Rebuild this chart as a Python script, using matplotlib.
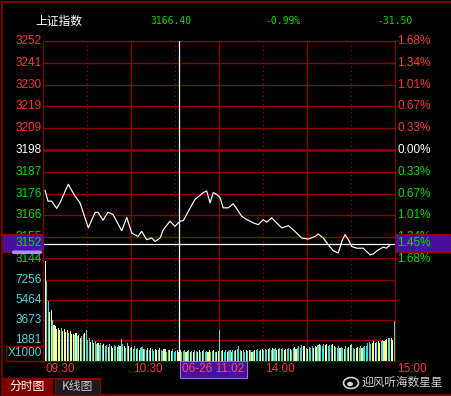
import matplotlib
matplotlib.use('Agg')
import matplotlib.pyplot as plt
import matplotlib.transforms as mtrans
from matplotlib.patches import Rectangle, FancyBboxPatch, Ellipse
import numpy as np

W, H = 451, 396

# ---- data ----
prev_close = 3197.90
header_name = '上证指数'
header_vals = ['3166.40', '-0.99%', '-31.50']

price_labels = ['3252', '3241', '3230', '3219', '3209', '3198',
                '3187', '3176', '3166', '3155', '3144']
pct_labels = ['1.68%', '1.34%', '1.01%', '0.67%', '0.33%', '0.00%',
              '0.33%', '0.67%', '1.01%', '1.34%', '1.68%']
pct_range = 1.68

vol_labels = [1881, 3673, 5464, 7256]
vol_top = 9139

# minute index (0 = 09:30, 240 = 15:00) and index value
line_min = [1.4, 3.4, 5.9, 9.3, 11.6, 17.2, 21.8, 25.2, 30.9, 35.5, 37.5, 40.9,
            44.3, 47.7, 53.7, 57.1, 60.5, 64.8, 67.3, 70.7, 74.1, 76.4, 79.8,
            82.0, 86.6, 90.0, 93.4, 95.7, 99.1, 103.6, 109.3, 111.6, 113.9,
            116.1, 118.4, 120.7, 122.9, 126.3, 129.7, 132.1, 135.5, 138.9,
            143.4, 146.8, 150.2, 152.5, 155.9, 159.3, 162.8, 167.3, 171.8,
            176.4, 180.9, 185.5, 187.7, 191.1, 194.5, 197.9, 201.3, 203.7,
            205.9, 208.2, 210.5, 213.9, 218.4, 223.0, 225.2, 228.6, 232.0,
            234.3, 236.6]
line_price = [3178.0, 3172.7, 3172.7, 3169.1, 3171.9, 3181.0, 3175.2, 3171.9,
              3159.5, 3167.1, 3167.2, 3163.3, 3167.2, 3166.1, 3158.1, 3164.7,
              3157.0, 3155.3, 3157.8, 3153.7, 3154.5, 3152.8, 3154.5, 3158.6,
              3162.8, 3160.3, 3162.8, 3163.1, 3167.7, 3173.5, 3176.9, 3177.7,
              3171.9, 3176.9, 3176.0, 3174.4, 3169.4, 3169.4, 3171.4, 3168.9,
              3165.2, 3163.6, 3162.0, 3161.1, 3163.6, 3162.3, 3164.5, 3162.0,
              3159.5, 3160.6, 3157.8, 3154.5, 3154.0, 3155.3, 3156.5, 3154.5,
              3151.2, 3148.3, 3147.1, 3152.8, 3156.2, 3153.7, 3150.3, 3149.5,
              3149.5, 3146.2, 3146.7, 3148.7, 3150.0, 3149.5, 3151.2]

volume = [2780, 9000, 7170, 5380, 4400, 4570, 3670, 3230, 3100, 2900,
          3000, 2800, 2950, 2700, 2850, 2600, 2750, 2500, 2650, 2400,
          2450, 2300, 2500, 2200, 2350, 2100, 2250, 2400, 2500, 2780,
          1900, 2050, 1700, 1850, 1600, 1750, 1500, 1650, 1450, 1600,
          1400, 1550, 1300, 1450, 1250, 1500, 1350, 1200, 1400, 1300,
          1250, 1450, 1300, 1970, 1500, 1350, 1200, 1600, 1300, 1150,
          1250, 1100, 1300, 1050, 1200, 1000, 1150, 1250, 1050, 1100,
          950, 1150, 1000, 1200, 1050, 900, 1100, 1000, 950, 1150,
          1000, 900, 1050, 1100, 850, 1000, 950, 900, 1050, 850,
          900, 1000, 850, 950, 800, 900, 1000, 850, 900, 950,
          800, 900, 850, 1000, 900, 800, 950, 850, 900, 1000,
          850, 900, 800, 950, 850, 900, 1000, 800, 850, 900,
          2780, 900, 1000, 850, 950, 800, 900, 1000, 850, 950,
          900, 1000, 1100, 1350, 950, 900, 1000, 850, 950, 900,
          1000, 950, 850, 900, 1000, 950, 1050, 900, 1000, 1100,
          950, 1050, 1000, 1100, 1150, 1000, 1200, 1050, 1150, 1000,
          1100, 1200, 1050, 1150, 1000, 1100, 1050, 1200, 1100, 1000,
          1150, 1250, 1100, 1200, 1300, 1150, 1400, 1350, 1300, 1200,
          1100, 1250, 1150, 1300, 1200, 1350, 1250, 1400, 1500, 1450,
          1350, 1500, 1400, 1550, 1300, 1450, 1400, 1500, 1350, 1250,
          1200, 1300, 1150, 1250, 1200, 1100, 1300, 1150, 1250, 1400,
          1500, 1200, 1100, 1150, 1250, 1200, 1300, 1150, 1250, 1350,
          1300, 1600, 1700, 1550, 1650, 1750, 1600, 1700, 1800, 1650,
          1750, 1850, 1800, 1900, 1950, 2050, 2100, 2050, 1900, 3580]
# y = up minute (yellow), c = down minute (cyan)
vol_dir = ("yyccyycyyy" "yycyyyycyy" "ycycyyccyc" "ccycyccycc"
           "cyccycyycc" "ycyccyccyc" "yccycyccyc" "cycyccyycy"
           "ccyyccyycc" "cyyycccyyc" "ycyccyycyc" "ccyyccycyy"
           "ccyccyccyc" "cycccyccyc" "ycycycccyy" "cccyccyccy"
           "ycccyyccyc" "cyyccccyyc" "ycccyyycyc" "ccyycccyyc"
           "ccyccyccyy" "cccyyccycc" "ccccyyycyy" "ccyyyccyyc")

time_labels = ['09:30', '10:30', '14:00', '15:00']
time_pos = [0, 60, 150, 240]
solid_min = [60, 120, 180]
dotted_min = [30, 90, 150, 210]

cursor_min = 93
cursor_price = 3151.5
cursor_left = '3152'
cursor_right = '1.45%'
cursor_date = '06-26 11:02'

# ---- colours ----
BG = 'black'
GRID = '#8c0000'
RED = '#ff3232'
GREEN = '#00e000'
CYAN = '#3cdcdc'
YEL = '#ffff8c'
PURPLE = '#4a10a0'
NUMF = ['Liberation Sans', 'DejaVu Sans']
CJK = ['Noto Sans CJK SC', 'DejaVu Sans']
FS = 8.5


def box(x0, y0, x1, y1):
    return [x0 / W, 1 - y1 / H, (x1 - x0) / W, (y1 - y0) / H]


fig = plt.figure(figsize=(W / 100, H / 100), dpi=100, facecolor=BG)

half = prev_close * pct_range / 100
levels = np.linspace(prev_close + half, prev_close - half, len(price_labels))

# price panel
ax1 = fig.add_axes(box(43, 41, 395, 259))
ax1.set_facecolor(BG)
ax1.set_xlim(0, 240)
ax1.set_ylim(prev_close - half, prev_close + half)
for lv in levels:
    ax1.axhline(lv, color=GRID, lw=2 if abs(lv - prev_close) < 0.1 else 1, zorder=1)
for m in solid_min:
    ax1.axvline(m, color=GRID, lw=1, zorder=1)
for m in dotted_min:
    ax1.axvline(m, color=GRID, lw=1, ls=(0, (1, 2)), zorder=1)
ax1.plot(line_min, line_price, color='white', lw=0.85, zorder=3)
ax1.axhline(cursor_price, color='white', lw=0.9, zorder=4)
ax1.axvline(cursor_min, color='white', lw=0.9, zorder=4)
for s in ax1.spines.values():
    s.set_color(GRID)
ax1.spines['bottom'].set_linewidth(2)
ax1.set_xticks([])
ax1.set_yticks([])

left_tr = mtrans.offset_copy(ax1.get_yaxis_transform(), fig=fig, x=-1.5, y=0, units='dots')
right_tr = mtrans.offset_copy(ax1.get_yaxis_transform(), fig=fig, x=2, y=0, units='dots')
for lv, pl, cl in zip(levels, price_labels, pct_labels):
    c = RED if lv > prev_close + 0.1 else (GREEN if lv < prev_close - 0.1 else 'white')
    ax1.text(0, lv, pl, transform=left_tr, ha='right', va='center', color=c,
             fontsize=FS, family=NUMF, clip_on=False)
    ax1.text(1, lv, cl, transform=right_tr, ha='left', va='center', color=c,
             fontsize=FS, family=NUMF, clip_on=False)

# volume panel
ax2 = fig.add_axes(box(43, 259, 395, 361))
ax2.set_facecolor(BG)
ax2.set_xlim(0, 240)
ax2.set_ylim(0, vol_top)
for v in vol_labels:
    ax2.axhline(v, color=GRID, lw=1, zorder=1)
for m in solid_min:
    ax2.axvline(m, color=GRID, lw=1, zorder=1)
for m in dotted_min:
    ax2.axvline(m, color=GRID, lw=1, ls=(0, (1, 2)), zorder=1)
cols = [YEL if d == 'y' else CYAN for d in vol_dir]
ax2.bar(np.arange(len(volume)) + 0.5, volume, width=0.74, color=cols, lw=0, zorder=2)
ax2.axvline(cursor_min, color='white', lw=0.9, zorder=4)
for s in ax2.spines.values():
    s.set_color(GRID)
ax2.spines['top'].set_visible(False)
ax2.set_xticks([])
ax2.set_yticks([])
vl_tr = mtrans.offset_copy(ax2.get_yaxis_transform(), fig=fig, x=-1.5, y=0, units='dots')
for v in vol_labels:
    ax2.text(0, v, str(v), transform=vl_tr, ha='right', va='center', color=CYAN,
             fontsize=FS, family=NUMF, clip_on=False)
tl_tr = mtrans.offset_copy(ax2.get_xaxis_transform(), fig=fig, x=2, y=-8, units='dots')
for t, lab in zip(time_pos, time_labels):
    ax2.text(t, 0, lab, transform=tl_tr, ha='left', va='center', color=RED,
             fontsize=FS, family=NUMF, clip_on=False)

# overlay in pixel coordinates for the frame, header and cursor boxes
ov = fig.add_axes([0, 0, 1, 1])
ov.set_xlim(0, W)
ov.set_ylim(H, 0)
ov.axis('off')
ov.patch.set_alpha(0)

ov.plot([2, W], [2, 2], color=GRID, lw=1.2)
ov.plot([2, 2], [2, H], color=GRID, lw=1.2)
ov.plot([2, W], [395, 395], color=GRID, lw=1.2)
ov.plot([2, 100], [378, 378], color=GRID, lw=1)

ov.text(35, 21, header_name, color='white', fontsize=8.5, family=CJK, va='center', ha='left')
for x, s in zip([150, 265, 377], header_vals):
    ov.text(x, 21, s, color=GREEN, fontsize=7, family=['DejaVu Sans Mono'], va='center', ha='left')

# cursor value boxes (they hide the 3155 / 1.34% labels underneath)
ov.add_patch(Rectangle((2, 234), 41, 18, facecolor=PURPLE, edgecolor=GRID, lw=0.8, zorder=5))
ov.add_patch(FancyBboxPatch((12, 250.5), 30, 3.5, boxstyle='round,pad=0,rounding_size=1.7',
                            facecolor='#b48cf0', edgecolor='none', zorder=6))
ov.text(41.5, 243.5, cursor_left, color=GREEN, fontsize=FS, family=NUMF, ha='right', va='center', zorder=7)
ov.add_patch(Rectangle((395, 234), 56, 18, facecolor=PURPLE, edgecolor=GRID, lw=0.8, zorder=5))
ov.text(397, 243.5, cursor_right, color=GREEN, fontsize=FS, family=NUMF, ha='left', va='center', zorder=7)
ov.add_patch(Rectangle((179.5, 361), 67, 17, facecolor=PURPLE, edgecolor='#9a6ad8', lw=0.8, zorder=5))
ov.text(181.5, 369.5, cursor_date, color='#ff4a4a', fontsize=FS, family=NUMF,
        ha='left', va='center', zorder=7)

# volume unit label
ov.add_patch(Rectangle((6, 346), 37, 15, facecolor=BG, edgecolor=GRID, lw=1, zorder=5))
ov.text(24.5, 353.5, 'X1000', color=CYAN, fontsize=FS, family=NUMF, ha='center', va='center', zorder=7)

# bottom tabs
ov.add_patch(Rectangle((2, 378), 51, 18, facecolor='#800000', edgecolor='none', zorder=5))
ov.add_patch(Rectangle((55, 379), 45, 16, facecolor='#1c1c1c', edgecolor=GRID, lw=0.8, zorder=5))
ov.text(27.5, 386.5, '分时图', color='white', fontsize=8.5, family=CJK, ha='center', va='center', zorder=7)
ov.text(77.5, 386.5, 'K线图', color='#c8c8c8', fontsize=8.5, family=CJK, ha='center', va='center', zorder=7)

# watermark
ov.add_patch(Ellipse((351, 383), 15, 11, facecolor='none', edgecolor='#d0d0d0', lw=1.2, zorder=7))
ov.add_patch(Ellipse((350, 384), 6, 4.5, facecolor='#d0d0d0', edgecolor='none', zorder=7))
ov.text(362, 382, '迎风听海数星星', color='#d0d0d0', fontsize=8.4, family=CJK, ha='left', va='center', zorder=7)

fig.savefig('out.png', dpi=100, facecolor=BG)
